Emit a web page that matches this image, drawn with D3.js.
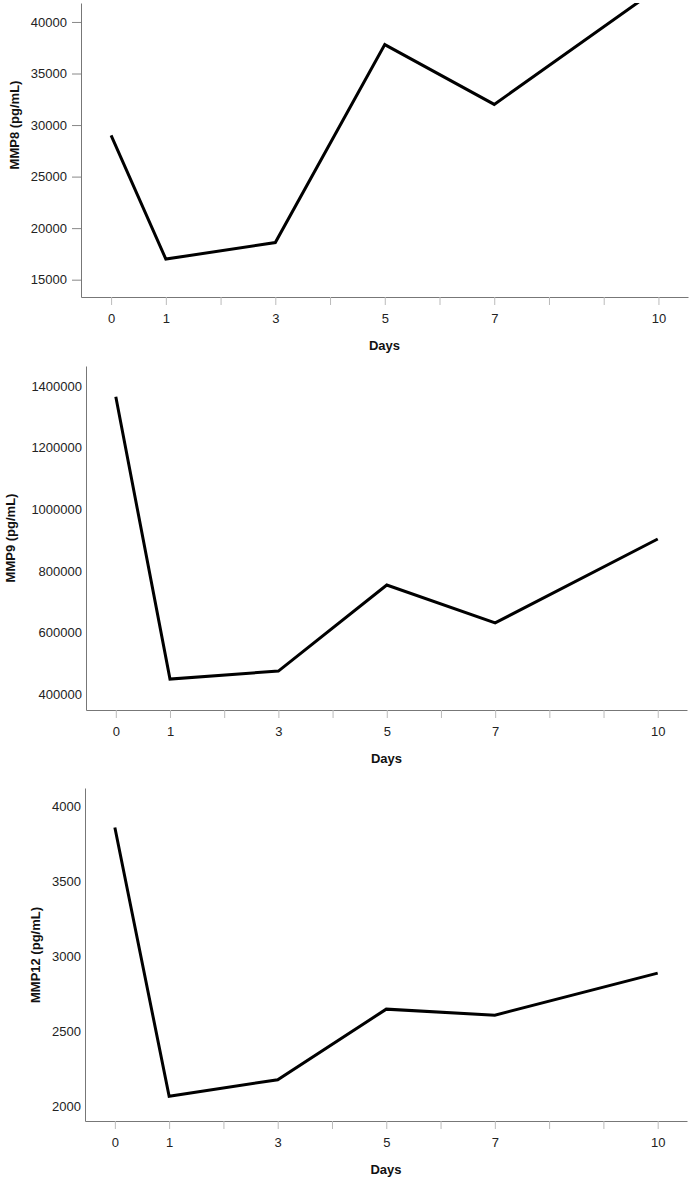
<!DOCTYPE html>
<html>
<head>
<meta charset="utf-8">
<script src="https://cdn.jsdelivr.net/npm/d3@7"></script>
<style>
	body { margin: 0; background: #fff; }
	svg { display: block; font-family: 'Liberation Sans', Arial, sans-serif; }
</style>
</head>
<body>
<div id="chart"></div>
<script>
// days of sampling, the x axis is the same for all three panels
const days = [0, 1, 3, 5, 7, 10]
const dayTicks = [0, 1, 2, 3, 4, 5, 6, 7, 8, 9, 10]
const dayLabels = [0, 1, 3, 5, 7, 10]

// mean concentrations
const mmp8 = [29000, 17000, 18600, 37800, 32000, 43300]
const mmp9 = [1365000, 450000, 476000, 755000, 632000, 904000]
const mmp12 = [3860, 2070, 2180, 2650, 2610, 2890]

// y tick labels
const mmp8Ticks = [15000, 20000, 25000, 30000, 35000, 40000]
const mmp9Ticks = [400000, 600000, 800000, 1000000, 1200000, 1400000]
const mmp12Ticks = [2000, 2500, 3000, 3500, 4000]

const width = 695
const height = 1181

// each panel has its own box and y range (the axis does not start at a round number)
const panels = [
	{ values: mmp8, ticks: mmp8Ticks, label: 'MMP8 (pg/mL)', yDomain: [13320, 41840],
		top: 3, bottom: 297, left: 81, right: 688, yTick: 9, titleX: 14, titleY: 125 },
	{ values: mmp9, ticks: mmp9Ticks, label: 'MMP9 (pg/mL)', yDomain: [349760, 1464800],
		top: 366, bottom: 710, left: 86, right: 687, yTick: 0, titleX: 10, titleY: 538 },
	{ values: mmp12, ticks: mmp12Ticks, label: 'MMP12 (pg/mL)', yDomain: [1905, 4123],
		top: 788, bottom: 1121, left: 85, right: 687, yTick: 0, titleX: 35, titleY: 955 }
]

const svg = d3.select('#chart')
	.append('svg')
	.attr('width', width)
	.attr('height', height)

panels.forEach((p, i) => {
	const x = d3.scaleLinear().domain([-0.55, 10.54]).range([p.left, p.right])
	const y = d3.scaleLinear().domain(p.yDomain).range([p.bottom, p.top])

	const g = svg.append('g')

	// clip so the MMP8 line is cut at the top of the plot
	g.append('clipPath')
		.attr('id', 'clip' + i)
		.append('rect')
		.attr('x', p.left)
		.attr('y', p.top)
		.attr('width', p.right - p.left)
		.attr('height', p.bottom - p.top)

	// y axis
	const yAxis = g.append('g')
		.attr('transform', `translate(${p.left},0)`)
		.call(d3.axisLeft(y)
			.tickValues(p.ticks)
			.tickFormat(d3.format('d'))
			.tickSize(p.yTick)
			.tickSizeOuter(0)
			.tickPadding(p.yTick ? 5 : 4))
	yAxis.select('.domain').attr('stroke', '#777')
	yAxis.selectAll('.tick line').attr('stroke', '#888')
	yAxis.selectAll('.tick text')
		.attr('fill', '#222')
		.style('font-size', '13px')

	// x axis, every day gets a tick but only sampling days are labelled
	const xAxis = g.append('g')
		.attr('transform', `translate(0,${p.bottom})`)
		.call(d3.axisBottom(x)
			.tickValues(dayTicks)
			.tickFormat(d => dayLabels.includes(d) ? d : '')
			.tickSize(8)
			.tickSizeOuter(0)
			.tickPadding(9))
	xAxis.select('.domain').attr('stroke', '#777')
	xAxis.selectAll('.tick line').attr('stroke', '#bbb')
	xAxis.selectAll('.tick text')
		.attr('fill', '#222')
		.style('font-size', '13px')

	// axis titles
	g.append('text')
		.attr('x', (p.left + p.right) / 2)
		.attr('y', p.bottom + 53)
		.attr('text-anchor', 'middle')
		.style('font-size', '13px')
		.style('font-weight', 'bold')
		.attr('fill', '#111')
		.text('Days')

	g.append('text')
		.attr('transform', `translate(${p.titleX},${p.titleY}) rotate(-90)`)
		.attr('text-anchor', 'middle')
		.attr('dy', '0.35em')
		.style('font-size', '13px')
		.style('font-weight', 'bold')
		.attr('fill', '#111')
		.text(p.label)

	// the line itself
	const line = d3.line()
		.x((d, j) => x(days[j]))
		.y(d => y(d))

	g.append('path')
		.datum(p.values)
		.attr('clip-path', `url(#clip${i})`)
		.attr('fill', 'none')
		.attr('stroke', '#000')
		.attr('stroke-width', 3)
		.attr('stroke-linejoin', 'miter')
		.attr('d', line)
})
</script>
</body>
</html>
